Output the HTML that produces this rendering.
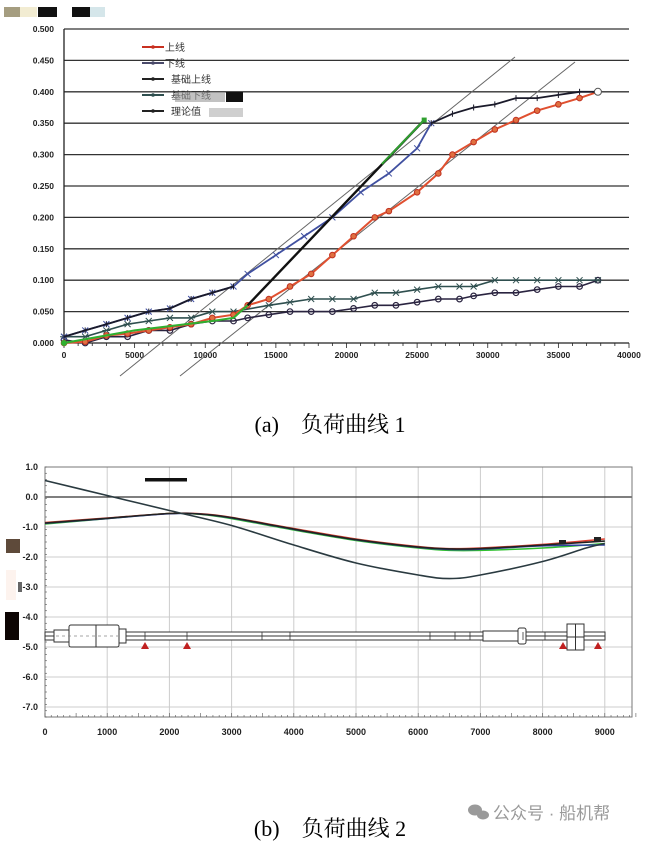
<!DOCTYPE html>
<html><head><meta charset="utf-8"><style>
html,body{margin:0;padding:0;background:#fff;width:652px;height:841px;overflow:hidden}
svg{display:block}
text{font-family:"Liberation Sans","Noto Sans CJK SC",sans-serif}
</style></head><body>
<svg id="s" width="652" height="841" xmlns="http://www.w3.org/2000/svg">
<rect width="652" height="841" fill="#fff"/>
<rect x="4" y="7" width="16" height="10" fill="#a59d80"/><rect x="20" y="7" width="17" height="10" fill="#f2ecd2"/>
<rect x="38" y="7" width="19" height="10" fill="#111"/><rect x="72" y="7" width="18" height="10" fill="#111"/><rect x="90" y="7" width="15" height="10" fill="#d5e6ea"/>
<g id="a"></g>
<g id="b"></g>
<text x="330" y="432" font-size="22" text-anchor="middle" style="font-family:'Liberation Serif','Noto Serif CJK SC',serif">(a)　负荷曲线 1</text>
<text x="330" y="836" font-size="22" text-anchor="middle" style="font-family:'Liberation Serif','Noto Serif CJK SC',serif">(b)　负荷曲线 2</text>
<g fill="#9a9a9a"><ellipse cx="475" cy="810" rx="7" ry="5.5"/><ellipse cx="483" cy="815" rx="6" ry="4.5"/></g>
<text x="493" y="819" font-size="17" fill="#9a9a9a">公众号 · 船机帮</text>
<rect x="6" y="539" width="14" height="14" fill="#5e4a3a"/>
<rect x="6" y="570" width="10" height="30" fill="#fdf3ee"/>
<rect x="18" y="582" width="4" height="10" fill="#666"/>
<rect x="5" y="612" width="14" height="28" fill="#0d0503"/>
</svg>
<script>
var NS="http://www.w3.org/2000/svg";
function el(p,t,a,txt){var e=document.createElementNS(NS,t);for(var k in a)e.setAttribute(k,a[k]);if(txt!=null)e.textContent=txt;p.appendChild(e);return e;}
var A=document.getElementById('a');
function X(v){return 64+v*0.014125;} function Y(v){return 343-v*628;}
for(var i=0;i<=10;i++){var v=i*0.05,y=Y(v);
 if(i>0)el(A,'line',{x1:64,y1:y,x2:629,y2:y,stroke:'#333','stroke-width':1.3});
 el(A,'text',{x:54,y:y+3,'font-size':8.5,'text-anchor':'end',fill:'#222','font-weight':'bold'},v.toFixed(3));}
el(A,'line',{x1:64,y1:29,x2:64,y2:343,stroke:'#222','stroke-width':1.3});
el(A,'line',{x1:64,y1:343,x2:629,y2:343,stroke:'#222','stroke-width':1.3});
for(var i=0;i<=40;i++){var x=X(i*1000);el(A,'line',{x1:x,y1:343,x2:x,y2:i%5?346:348,stroke:'#222','stroke-width':0.8});}
for(var i=0;i<=8;i++)el(A,'text',{x:X(i*5000),y:358,'font-size':8.5,'text-anchor':'middle',fill:'#222','font-weight':'bold'},i*5000);
el(A,'line',{x1:120,y1:376,x2:515,y2:57,stroke:'#666','stroke-width':1});
el(A,'line',{x1:180,y1:376,x2:575,y2:62,stroke:'#666','stroke-width':1});
function series(pts,col,mk,w){var d=pts.map(function(p,i){return (i?'L':'M')+X(p[0]).toFixed(1)+' '+Y(p[1]).toFixed(1)}).join(' ');
 el(A,'path',{d:d,fill:'none',stroke:col,'stroke-width':w||1.8});
 pts.forEach(function(p){var x=X(p[0]),y=Y(p[1]);
  if(mk=='o')el(A,'circle',{cx:x,cy:y,r:2.8,fill:'none',stroke:col,'stroke-width':1.2});
  else if(mk=='ro')el(A,'circle',{cx:x,cy:y,r:2.8,fill:'#e07040',stroke:'#c03020','stroke-width':1});
  else if(mk=='x'||mk=='*'){el(A,'path',{d:'M'+(x-3)+' '+(y-3)+'L'+(x+3)+' '+(y+3)+'M'+(x-3)+' '+(y+3)+'L'+(x+3)+' '+(y-3)+(mk=='*'?'M'+(x-4)+' '+y+'L'+(x+4)+' '+y:''),stroke:col,'stroke-width':1});}
  else if(mk=='+')el(A,'path',{d:'M'+x+' '+(y-3)+'L'+x+' '+(y+3),stroke:col,'stroke-width':1});
 });}
series([[0,0.005],[1500,0],[3000,0.01],[4500,0.01],[6000,0.02],[7500,0.02],[9000,0.03],[10500,0.035],[12000,0.035],[13000,0.04],[14500,0.045],[16000,0.05],[17500,0.05],[19000,0.05],[20500,0.055],[22000,0.06],[23500,0.06],[25000,0.065],[26500,0.07],[28000,0.07],[29000,0.075],[30500,0.08],[32000,0.08],[33500,0.085],[35000,0.09],[36500,0.09],[37800,0.1]],'#2a2440','o',1.6);
series([[0,0.01],[1500,0.01],[3000,0.02],[4500,0.03],[6000,0.035],[7500,0.04],[9000,0.04],[10500,0.05],[12000,0.05],[14500,0.06],[16000,0.065],[17500,0.07],[19000,0.07],[20500,0.07],[22000,0.08],[23500,0.08],[25000,0.085],[26500,0.09],[28000,0.09],[29000,0.09],[30500,0.1],[32000,0.1],[33500,0.1],[35000,0.1],[36500,0.1],[37800,0.1]],'#2f4f4f','*',1.6);
series([[0,0],[1500,0.002],[3000,0.012],[4500,0.015],[6000,0.02],[7500,0.025],[9000,0.03],[10500,0.04],[12000,0.045],[13000,0.06],[14500,0.07],[16000,0.09],[17500,0.11],[19000,0.14],[20500,0.17],[22000,0.2],[23000,0.21],[25000,0.24],[26500,0.27],[27500,0.3],[29000,0.32],[30500,0.34],[32000,0.355],[33500,0.37],[35000,0.38],[36500,0.39],[37800,0.4]],'#e05030','ro',2);
series([[0,0.01],[1500,0.02],[3000,0.03],[4500,0.04],[6000,0.05],[7500,0.055],[9000,0.07],[10500,0.08],[12000,0.09],[13000,0.11],[15000,0.14],[17000,0.17],[19000,0.2],[21000,0.24],[23000,0.27],[25000,0.31],[26000,0.35]],'#4050a0','x',1.8);
series([[0,0.01],[1500,0.02],[3000,0.03],[4500,0.04],[6000,0.05],[7500,0.055],[9000,0.07],[10500,0.08],[12000,0.09]],'#1a1a2a','+',1.8);
series([[26000,0.35],[27500,0.365],[29000,0.375],[30500,0.38],[32000,0.39],[33500,0.39],[35000,0.395],[36500,0.4],[37800,0.4]],'#1a1a2a','+',1.8);
series([[0,0],[5000,0.02],[10500,0.035],[12000,0.04],[13000,0.06]],'#30b030','',2);
el(A,'line',{x1:X(13000),y1:Y(0.06),x2:X(25500),y2:Y(0.355),stroke:'#111','stroke-width':2.4});
el(A,'line',{x1:X(22500),y1:Y(0.285),x2:X(25500),y2:Y(0.355),stroke:'#30a030','stroke-width':2});
el(A,'rect',{x:X(25500)-2.5,y:Y(0.355)-2.5,width:5,height:5,fill:'#30a030'});
el(A,'circle',{cx:X(37800),cy:Y(0.4),r:3.5,fill:'#fff',stroke:'#555'});
el(A,'circle',{cx:X(0),cy:Y(0),r:3,fill:'#30b030'});
var lg=[['上线','#c83020'],['下线','#4a4a6a'],['基础上线','#222'],['基础下线','#2f4f4f'],['理论值','#222']];
lg.forEach(function(l,i){var y=47+i*16;el(A,'line',{x1:142,y1:y,x2:164,y2:y,stroke:l[1],'stroke-width':2});el(A,'circle',{cx:153,cy:y,r:1.8,fill:l[1]});el(A,'text',{x:i<2?165:171,y:y+4,'font-size':10,fill:'#333'},l[0]);});
el(A,'rect',{x:175,y:92,width:50,height:10,fill:'#999',opacity:0.6});el(A,'rect',{x:226,y:92,width:17,height:10,fill:'#111'});
el(A,'rect',{x:209,y:108,width:34,height:9,fill:'#bbb',opacity:0.7});

var B=document.getElementById('b');
function BX(v){return 45+v*0.0622;} function BY(v){return 497-v*30;}
for(var i=0;i<=9;i++){var x=BX(i*1000);if(i>0)el(B,'line',{x1:x,y1:467,x2:x,y2:717,stroke:'#ccc','stroke-width':1});el(B,'text',{x:x,y:735,'font-size':9,'text-anchor':'middle',fill:'#222','font-weight':'bold'},String(i*1000));}
for(var i=1;i>=-7;i--){var y=BY(i);if(i!=1)el(B,'line',{x1:45,y1:y,x2:632,y2:y,stroke:i==0?'#333':'#ccc','stroke-width':i==0?1.3:1});el(B,'text',{x:38,y:y+3,'font-size':9,'text-anchor':'end',fill:'#222','font-weight':'bold'},i.toFixed(1));}
el(B,'rect',{x:45,y:467,width:587,height:250,fill:'none',stroke:'#777','stroke-width':1});
for(var i=0;i<=95;i++){var x=BX(i*100);el(B,'line',{x1:x,y1:717,x2:x,y2:i%5?715:713,stroke:'#555','stroke-width':0.6});}
for(var i=0;i<=40;i++){var y=467+i*6.25;el(B,'line',{x1:45,y1:y,x2:47,y2:y,stroke:'#555','stroke-width':0.6});}
function curve(pts,col,w){
 var P=pts.map(function(p){return [BX(p[0]),BY(p[1])]});
 var d='M'+P[0][0].toFixed(1)+' '+P[0][1].toFixed(1);
 for(var i=0;i<P.length-1;i++){var p0=P[i-1]||P[i],p1=P[i],p2=P[i+1],p3=P[i+2]||p2;
  var c1=[p1[0]+(p2[0]-p0[0])/6,p1[1]+(p2[1]-p0[1])/6],c2=[p2[0]-(p3[0]-p1[0])/6,p2[1]-(p3[1]-p1[1])/6];
  d+=' C'+c1[0].toFixed(1)+' '+c1[1].toFixed(1)+' '+c2[0].toFixed(1)+' '+c2[1].toFixed(1)+' '+p2[0].toFixed(1)+' '+p2[1].toFixed(1);}
 el(B,'path',{d:d,fill:'none',stroke:col,'stroke-width':w||1.5});}
curve([[0,-0.9],[1000,-0.72],[2000,-0.55],[2500,-0.58],[3000,-0.72],[4000,-1.1],[5000,-1.45],[6000,-1.7],[6500,-1.78],[7000,-1.78],[8000,-1.7],[9000,-1.55]],'#30c030',1.5);
curve([[0,-0.85],[1000,-0.7],[2000,-0.55],[2500,-0.56],[3000,-0.68],[4000,-1.05],[5000,-1.4],[6000,-1.65],[6500,-1.72],[7000,-1.7],[8000,-1.58],[9000,-1.4]],'#e04030',1.5);
curve([[0,-0.88],[1000,-0.72],[2000,-0.56],[2500,-0.57],[3000,-0.7],[4000,-1.08],[5000,-1.43],[6000,-1.68],[6500,-1.75],[7000,-1.74],[8000,-1.63],[9000,-1.6]],'#3040a0',1.5);
curve([[0,-0.87],[1000,-0.71],[2000,-0.55],[2500,-0.57],[3000,-0.69],[4000,-1.07],[5000,-1.42],[6000,-1.67],[6500,-1.73],[7000,-1.72],[8000,-1.6],[9000,-1.47]],'#222',1.6);
curve([[0,0.55],[1000,0.05],[2000,-0.45],[3000,-0.95],[4000,-1.6],[5000,-2.2],[6000,-2.6],[6500,-2.72],[7000,-2.6],[8000,-2.15],[8700,-1.7],[9000,-1.55]],'#2a3a40',1.6);
el(B,'rect',{x:145,y:478,width:42,height:3.5,fill:'#111'});
el(B,'rect',{x:559,y:540,width:7,height:4,fill:'#222'});el(B,'rect',{x:594,y:537,width:7,height:4,fill:'#222'});
var g=el(B,'g',{fill:'#fff',stroke:'#333','stroke-width':1});
el(g,'rect',{x:45,y:632,width:560,height:8});
el(g,'line',{x1:45,y1:636,x2:605,y2:636});
el(g,'rect',{x:54,y:630,width:15,height:12});
el(g,'rect',{x:69,y:625,width:50,height:22,rx:2});
el(g,'line',{x1:96,y1:625,x2:96,y2:647});
el(g,'rect',{x:119,y:629,width:7,height:14});
el(g,'rect',{x:483,y:631,width:35,height:10});
el(g,'rect',{x:518,y:628,width:8,height:16,rx:2});
el(g,'rect',{x:567,y:624,width:17,height:26});
el(g,'line',{x1:575.5,y1:624,x2:575.5,y2:650});el(g,'line',{x1:567,y1:637,x2:584,y2:637});
[145,187,262,290,430,455,470,523,545].forEach(function(x){el(B,'line',{x1:x,y1:632,x2:x,y2:640,stroke:'#333','stroke-width':0.8});});
el(B,'line',{x1:56,y1:636,x2:118,y2:636,stroke:'#888','stroke-width':0.8,'stroke-dasharray':'3,3'});
[145,187,563,598].forEach(function(x){el(B,'path',{d:'M'+(x-4)+' 649L'+(x+4)+' 649L'+x+' 642Z',fill:'#c02020'});});
</script>
</body></html>
